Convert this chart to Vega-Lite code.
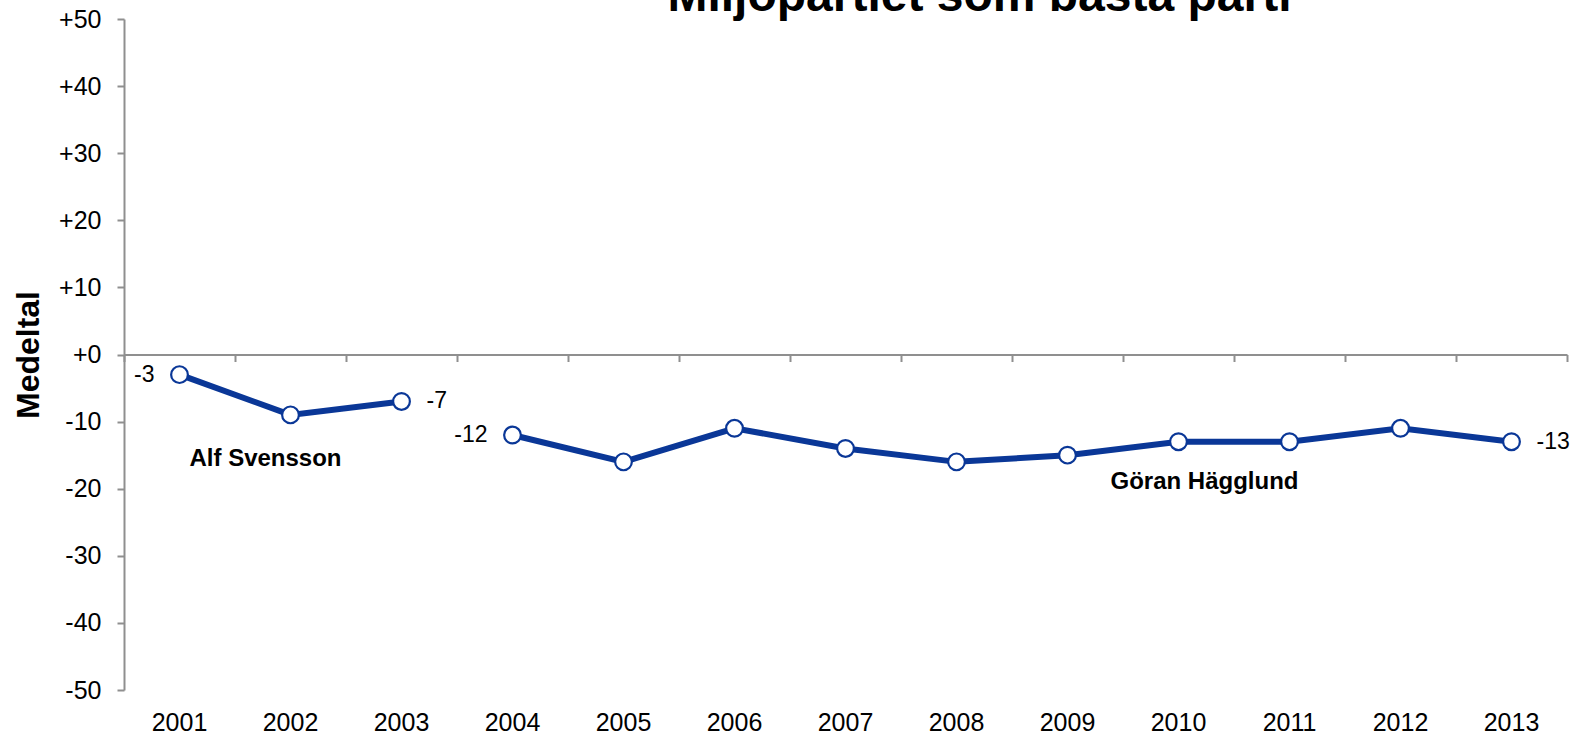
{
  "$schema": "https://vega.github.io/schema/vega-lite/v6.json",
  "width": 1443,
  "height": 671,
  "autosize": {"type": "none"},
  "padding": {"left": 124, "top": 19, "right": 5, "bottom": 47},
  "background": "white",
  "config": {"font": "Liberation Sans", "view": {"stroke": null}},
  "title": {
    "text": "Miljöpartiet som bästa parti",
    "fontSize": 48,
    "fontWeight": "bold",
    "font": "Liberation Sans",
    "color": "black",
    "anchor": "middle",
    "frame": "group",
    "baseline": "alphabetic",
    "offset": -52,
    "dx": 134
  },
  "data": {
    "values": [
      {"year": "2001", "value": -3, "leader": "Alf Svensson"},
      {"year": "2002", "value": -9, "leader": "Alf Svensson"},
      {"year": "2003", "value": -7, "leader": "Alf Svensson"},
      {"year": "2004", "value": -12, "leader": "Göran Hägglund"},
      {"year": "2005", "value": -16, "leader": "Göran Hägglund"},
      {"year": "2006", "value": -11, "leader": "Göran Hägglund"},
      {"year": "2007", "value": -14, "leader": "Göran Hägglund"},
      {"year": "2008", "value": -16, "leader": "Göran Hägglund"},
      {"year": "2009", "value": -15, "leader": "Göran Hägglund"},
      {"year": "2010", "value": -13, "leader": "Göran Hägglund"},
      {"year": "2011", "value": -13, "leader": "Göran Hägglund"},
      {"year": "2012", "value": -11, "leader": "Göran Hägglund"},
      {"year": "2013", "value": -13, "leader": "Göran Hägglund"}
    ]
  },
  "layer": [
    {
      "mark": {"type": "line", "color": "#0a3797", "strokeWidth": 6},
      "encoding": {
        "x": {
          "field": "year", "type": "ordinal",
          "scale": {"type": "band", "paddingInner": 0, "paddingOuter": 0},
          "axis": {
            "orient": "bottom", "title": null, "domain": false, "ticks": false, "grid": false,
            "labelAngle": 0, "labelFontSize": 25, "labelColor": "black", "labelPadding": 20,
            "labelFont": "Liberation Sans"
          }
        },
        "y": {
          "field": "value", "type": "quantitative",
          "scale": {"domain": [-50, 50], "nice": false, "zero": false},
          "axis": {
            "values": [-50, -40, -30, -20, -10, 0, 10, 20, 30, 40, 50],
            "labelExpr": "datum.value >= 0 ? '+' + datum.value : '' + datum.value",
            "grid": false, "domain": true, "domainColor": "#8f8f8f", "domainWidth": 2,
            "ticks": true, "tickColor": "#8f8f8f", "tickSize": 7, "tickWidth": 2,
            "labelFontSize": 25, "labelColor": "black", "labelPadding": 16, "labelFont": "Liberation Sans",
            "title": "Medeltal", "titleFontSize": 32, "titleFontWeight": "bold", "titleColor": "black",
            "titleFont": "Liberation Sans",
            "titleAngle": -90, "titleAlign": "center", "titleBaseline": "middle",
            "titleX": -96, "titleY": 335.5
          }
        },
        "detail": {"field": "leader", "type": "nominal"}
      }
    },
    {
      "mark": {"type": "point", "shape": "circle", "filled": true, "fill": "white", "stroke": "#0a3797", "strokeWidth": 2.2, "size": 280, "opacity": 1},
      "encoding": {
        "x": {
          "field": "year", "type": "ordinal",
          "axis": {
            "orient": "bottom", "offset": -335.5, "labels": false, "title": null, "grid": false,
            "domain": true, "domainColor": "#8f8f8f", "domainWidth": 2,
            "ticks": true, "tickBand": "extent", "tickExtra": true, "tickSize": 7, "tickColor": "#8f8f8f", "tickWidth": 2
          }
        },
        "y": {"field": "value", "type": "quantitative"}
      }
    },
    {
      "transform": [{"filter": {"field": "year", "oneOf": ["2001", "2004"]}}],
      "mark": {"type": "text", "align": "right", "baseline": "middle", "dx": -25, "fontSize": 23, "color": "black"},
      "encoding": {
        "x": {"field": "year", "type": "ordinal", "axis": null},
        "y": {"field": "value", "type": "quantitative"},
        "text": {"field": "value", "type": "nominal"}
      }
    },
    {
      "transform": [{"filter": {"field": "year", "oneOf": ["2003", "2013"]}}],
      "mark": {"type": "text", "align": "left", "baseline": "middle", "dx": 25, "fontSize": 23, "color": "black"},
      "encoding": {
        "x": {"field": "year", "type": "ordinal", "axis": null},
        "y": {"field": "value", "type": "quantitative"},
        "text": {"field": "value", "type": "nominal"}
      }
    },
    {
      "data": {"values": [{"name": "Alf Svensson", "year": "2002", "value": -15.5}]},
      "mark": {"type": "text", "align": "center", "baseline": "middle", "dx": -25, "fontSize": 24, "fontWeight": "bold", "color": "black"},
      "encoding": {
        "x": {"field": "year", "type": "ordinal", "axis": null},
        "y": {"field": "value", "type": "quantitative"},
        "text": {"field": "name", "type": "nominal"}
      }
    },
    {
      "data": {"values": [{"name": "Göran Hägglund", "year": "2010", "value": -19}]},
      "mark": {"type": "text", "align": "center", "baseline": "middle", "dx": 26, "fontSize": 24, "fontWeight": "bold", "color": "black"},
      "encoding": {
        "x": {"field": "year", "type": "ordinal", "axis": null},
        "y": {"field": "value", "type": "quantitative"},
        "text": {"field": "name", "type": "nominal"}
      }
    }
  ],
  "resolve": {"axis": {"x": "independent"}}
}
